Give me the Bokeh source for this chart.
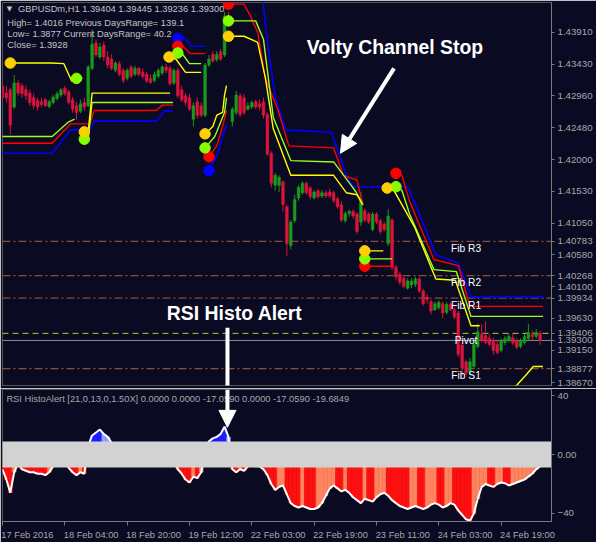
import math
from bokeh.plotting import figure
from bokeh.layouts import column
from bokeh.models import (Range1d, FixedTicker, PrintfTickFormatter, Span,
                          Arrow, NormalHead, ColumnDataSource)
from bokeh.core.properties import value
from bokeh.embed import file_html
from bokeh.resources import INLINE

NaN = float("nan")

# ---------------- data ----------------
header = "GBPUSDm,H1  1.39404 1.39445 1.39236 1.39300"
info_lines = ["High= 1.4016 Previous DaysRange= 139.1",
              "Low= 1.3877 Current DaysRange= 40.2",
              "Close= 1.3928"]

opens = [1.4311, 1.4300, 1.4305, 1.4279, 1.4315, 1.4311, 1.4305, 1.4300, 1.4293, 1.4289,
         1.4287, 1.4290, 1.4280, 1.4286, 1.4292, 1.4297, 1.4307, 1.4302, 1.4290, 1.4281,
         1.4273, 1.4286, 1.4281, 1.4337, 1.4375, 1.4354, 1.4372, 1.4354, 1.4351, 1.4334,
         1.4344, 1.4334, 1.4322, 1.4339, 1.4328, 1.4337, 1.4331, 1.4328, 1.4322, 1.4319,
         1.4325, 1.4330, 1.4339, 1.4337, 1.4315, 1.4334, 1.4305, 1.4296, 1.4293, 1.4261,
         1.4287, 1.4281, 1.4267, 1.4342, 1.4358, 1.4350, 1.4362, 1.4357, 1.4415, 1.4257,
         1.4271, 1.4296, 1.4293, 1.4276, 1.4279, 1.4287, 1.4284, 1.4287, 1.4268, 1.4210,
         1.4162, 1.4162, 1.4167, 1.4130, 1.4072, 1.4109, 1.4143, 1.4151, 1.4165, 1.4158,
         1.4143, 1.4154, 1.4146, 1.4151, 1.4152, 1.4151, 1.4142, 1.4133, 1.4109, 1.4120,
         1.4123, 1.4119, 1.4107, 1.4124, 1.4119, 1.4096, 1.4119, 1.4109, 1.4104, 1.4075,
         1.4110, 1.4040, 1.4029, 1.4023, 1.4008, 1.4013, 1.4014, 1.4022, 1.4004, 1.3995,
         1.3988, 1.3976, 1.3979, 1.3985, 1.3972, 1.3984, 1.3976, 1.3971, 1.3923, 1.3898,
         1.3883, 1.3891, 1.3921, 1.3939, 1.3937, 1.3933, 1.3930, 1.3924, 1.3915, 1.3927,
         1.3930, 1.3934, 1.3930, 1.3921, 1.3927, 1.3933, 1.3939, 1.3936, 1.39404]
highs = [1.4315, 1.4311, 1.4308, 1.4327, 1.4319, 1.4315, 1.4311, 1.4305, 1.4299, 1.4293,
         1.4293, 1.4293, 1.4290, 1.4297, 1.4302, 1.4308, 1.4311, 1.4305, 1.4294, 1.4287,
         1.4290, 1.4293, 1.4342, 1.4395, 1.4380, 1.4375, 1.4377, 1.4363, 1.4358, 1.4348,
         1.4348, 1.4337, 1.4337, 1.4342, 1.4341, 1.4339, 1.4337, 1.4332, 1.4328, 1.4332,
         1.4337, 1.4342, 1.4344, 1.4341, 1.4337, 1.4338, 1.4311, 1.4300, 1.4299, 1.4286,
         1.4293, 1.4286, 1.4345, 1.4357, 1.4363, 1.4363, 1.4366, 1.4421, 1.4421, 1.4279,
         1.4303, 1.4300, 1.4299, 1.4286, 1.4289, 1.4290, 1.4290, 1.4293, 1.4271, 1.4213,
         1.4180, 1.4177, 1.4170, 1.4133, 1.4110, 1.4148, 1.4162, 1.4168, 1.4168, 1.4161,
         1.4155, 1.4157, 1.4155, 1.4154, 1.4157, 1.4154, 1.4145, 1.4138, 1.4123, 1.4126,
         1.4126, 1.4122, 1.4152, 1.4127, 1.4122, 1.4122, 1.4122, 1.4112, 1.4107, 1.4126,
         1.4113, 1.4043, 1.4032, 1.4026, 1.4023, 1.4023, 1.4025, 1.4025, 1.4007, 1.3999,
         1.3991, 1.3988, 1.3990, 1.3988, 1.3987, 1.3987, 1.3979, 1.3974, 1.3926, 1.3901,
         1.3904, 1.3930, 1.3955, 1.3955, 1.3959, 1.3939, 1.3934, 1.3930, 1.3933, 1.3937,
         1.3940, 1.3940, 1.3933, 1.3933, 1.3940, 1.3955, 1.3945, 1.3947, 1.39445]
lows = [1.4289, 1.4286, 1.4238, 1.4276, 1.4296, 1.4293, 1.4290, 1.4281, 1.4276, 1.4274,
        1.4279, 1.4279, 1.4277, 1.4283, 1.4289, 1.4294, 1.4296, 1.4283, 1.4271, 1.4260,
        1.4270, 1.4274, 1.4279, 1.4334, 1.4354, 1.4351, 1.4348, 1.4337, 1.4334, 1.4331,
        1.4325, 1.4315, 1.4319, 1.4322, 1.4325, 1.4325, 1.4322, 1.4315, 1.4314, 1.4316,
        1.4322, 1.4327, 1.4330, 1.4311, 1.4312, 1.4293, 1.4287, 1.4281, 1.4273, 1.4250,
        1.4262, 1.4264, 1.4264, 1.4339, 1.4345, 1.4347, 1.4348, 1.4354, 1.4407, 1.4250,
        1.4267, 1.4264, 1.4267, 1.4274, 1.4276, 1.4276, 1.4274, 1.4262, 1.4206, 1.4159,
        1.4154, 1.4152, 1.4123, 1.4056, 1.4066, 1.4106, 1.4139, 1.4148, 1.4148, 1.4141,
        1.4141, 1.4142, 1.4143, 1.4143, 1.4143, 1.4136, 1.4127, 1.4107, 1.4106, 1.4115,
        1.4112, 1.4089, 1.4101, 1.4107, 1.4104, 1.4093, 1.4104, 1.4089, 1.4093, 1.4071,
        1.4035, 1.4020, 1.4013, 1.4008, 1.4006, 1.4008, 1.4010, 1.4001, 1.3982, 1.3985,
        1.3969, 1.3974, 1.3976, 1.3963, 1.3969, 1.3974, 1.3962, 1.3905, 1.3877, 1.3878,
        1.3879, 1.3888, 1.3918, 1.3927, 1.3924, 1.3921, 1.3909, 1.3909, 1.3912, 1.3923,
        1.3927, 1.3923, 1.3917, 1.3918, 1.3924, 1.3930, 1.3930, 1.3933, 1.39236]
closes = [1.4293, 1.4293, 1.4252, 1.4315, 1.4300, 1.4299, 1.4296, 1.4286, 1.4281, 1.4279,
          1.4283, 1.4281, 1.4287, 1.4294, 1.4299, 1.4305, 1.4299, 1.4286, 1.4276, 1.4271,
          1.4284, 1.4279, 1.4339, 1.4373, 1.4357, 1.4369, 1.4354, 1.4342, 1.4337, 1.4345,
          1.4328, 1.4319, 1.4334, 1.4325, 1.4337, 1.4328, 1.4325, 1.4318, 1.4316, 1.4328,
          1.4334, 1.4339, 1.4334, 1.4314, 1.4334, 1.4296, 1.4290, 1.4286, 1.4276, 1.4281,
          1.4267, 1.4267, 1.4342, 1.4351, 1.4348, 1.4358, 1.4351, 1.4415, 1.4409, 1.4276,
          1.4297, 1.4268, 1.4271, 1.4281, 1.4286, 1.4279, 1.4279, 1.4267, 1.4209, 1.4165,
          1.4177, 1.4174, 1.4133, 1.4075, 1.4107, 1.4141, 1.4159, 1.4165, 1.4151, 1.4145,
          1.4152, 1.4145, 1.4151, 1.4146, 1.4146, 1.4139, 1.4130, 1.4110, 1.4120, 1.4123,
          1.4116, 1.4093, 1.4141, 1.4110, 1.4107, 1.4119, 1.4107, 1.4093, 1.4096, 1.4116,
          1.4039, 1.4025, 1.4017, 1.4011, 1.4019, 1.4019, 1.4022, 1.4004, 1.3985, 1.3991,
          1.3974, 1.3985, 1.3987, 1.3971, 1.3984, 1.3976, 1.3965, 1.3909, 1.3889, 1.3881,
          1.3898, 1.3924, 1.3943, 1.3930, 1.3927, 1.3924, 1.3915, 1.3912, 1.3930, 1.3933,
          1.3936, 1.3926, 1.3920, 1.3930, 1.3936, 1.3942, 1.3936, 1.3942, 1.39300]

# Volty channel stop lines (bar index, price); NaN separates segments
yellow_i = [2, 12.5, 15.75, 17.75, 20, NaN,
            21, 22, 23, 43, NaN,
            42.75, 44.5, 47, 51, NaN,
            52, 54, 55, 56.5, 57, 57.5, NaN,
            58, 62, 65.5, 67.5, 69.5, 74, 85, 88.25, 91, 92.5, NaN,
            93, 97.75, NaN,
            98.75, 100.5, 105.75, 111.25, 116.25, 120.25, 122.5, NaN,
            130, 132, 134.5, 136.25, 138.75]
yellow_p = [1.4345, 1.4345, 1.4344, 1.4318, 1.4318, NaN,
            1.4242, 1.4242, 1.4300, 1.4300, NaN,
            1.4354, 1.4351, 1.4331, 1.4331, NaN,
            1.4239, 1.4250, 1.4267, 1.4271, 1.4297, 1.4311, NaN,
            1.4385, 1.4385, 1.4376, 1.4322, 1.4247, 1.4177, 1.4177, 1.4151, 1.4148, 1.4133, NaN,
            1.4064, 1.4064, NaN,
            1.4158, 1.4154, 1.4100, 1.4022, 1.4020, 1.3952, 1.3952, NaN,
            1.3854, 1.3863, 1.3879, 1.3891, 1.3891]
lime_i = [-0.5, 12.75, 17, 18.5, NaN,
          19, 20.5, NaN,
          21, 22, 23, 43.75, NaN,
          45, 46, 48, 51, NaN,
          52, 54.5, 55.75, 57, 57.5, NaN,
          58, 65, 67, 69.5, 74, 85, 89.5, 90.75, 92.5, NaN,
          93, 100, NaN,
          101, 102.5, 104.5, 110.75, 116.5, 120.25, 138.75]
lime_p = [1.4235, 1.4235, 1.4257, 1.4261, NaN,
          1.4322, 1.4322, NaN,
          1.4231, 1.4231, 1.4286, 1.4286, NaN,
          1.4360, 1.4360, 1.4344, 1.4344, NaN,
          1.4218, 1.4235, 1.4253, 1.4271, 1.4293, NaN,
          1.4408, 1.4408, 1.4380, 1.4264, 1.4199, 1.4197, 1.4162, 1.4152, 1.4133, NaN,
          1.4052, 1.4052, NaN,
          1.4160, 1.4155, 1.4119, 1.4036, 1.4033, 1.3966, 1.3966]
red_i = [-0.5, 12.75, 17.5, 22.5, 23.5, 39.5, 41, 43.75, NaN,
         45, 46.5, 48.25, 52, NaN,
         53, 55, 56.5, 57.5, NaN,
         58, 62, 63.5, 65.5, 67.5, 70.75, 73.5, 85, 87.5, 91, 92.5, NaN,
         93, 100, NaN,
         101, 102.5, 104.5, 110.75, 117, 120, 138.75]
red_p = [1.4225, 1.4225, 1.4254, 1.4254, 1.4274, 1.4274, 1.4282, 1.4282, NaN,
         1.4370, 1.4369, 1.4359, 1.4359, NaN,
         1.4205, 1.4221, 1.4250, 1.4274, NaN,
         1.4433, 1.4433, 1.4417, 1.4391, 1.4322, 1.4274, 1.4221, 1.4218, 1.4177, 1.4170, 1.4133, NaN,
         1.4041, 1.4041, NaN,
         1.4180, 1.4177, 1.4138, 1.4051, 1.4042, 1.3981, 1.3981]
blue_i = [-0.5, 12.75, 17.5, 22.5, 23.5, 39.5, 41.5, 43.75, NaN,
          45, 47, 48.5, 52, NaN,
          53, 55, 56.5, 57.5, NaN,
          63.5, 66.5, 68.25, 70, 72.75, 84.5, 88.25, 90, 104, 106.5, 111.25, 117, 120.25, 139]
blue_p = [1.4210, 1.4210, 1.4245, 1.4245, 1.4258, 1.4258, 1.4273, 1.4273, NaN,
          1.4382, 1.4382, 1.4370, 1.4370, NaN,
          1.4184, 1.4206, 1.4235, 1.4253, NaN,
          1.4453, 1.4453, 1.4366, 1.4293, 1.4245, 1.4241, 1.4177, 1.4160, 1.4160, 1.4126,
          1.4058, 1.4046, 1.3995, 1.3995]

# trend-change dots
dot_yellow_i = [2, 21, 42.75, 52, 58, 93, 98.75]
dot_yellow_p = [1.4345, 1.4242, 1.4354, 1.4239, 1.4385, 1.4064, 1.4158]
dot_lime_i = [19, 21, 45, 52, 58, 93, 101]
dot_lime_p = [1.4322, 1.4231, 1.4360, 1.4218, 1.4408, 1.4052, 1.4160]
dot_red_i = [45, 53, 58, 93, 101]
dot_red_p = [1.4370, 1.4205, 1.4433, 1.4041, 1.4180]
dot_blue_i = [45, 53]
dot_blue_p = [1.4382, 1.4184]

# pivot levels
level_names = ["Fib R3", "Fib R2", "Fib R1", "Pivot", "Fib S1"]
level_values = [1.40783, 1.40268, 1.39934, 1.39406, 1.38877]
bid_price = 1.39300

price_ticks = [1.4391, 1.4343, 1.4296, 1.4248, 1.4200, 1.4153, 1.4105,
               1.4058, 1.4010, 1.3963, 1.3915, 1.3867]
marked_prices = [1.40783, 1.40268, 1.39934, 1.39406, 1.39300, 1.38877]

# RSI HistoAlert values
rsi = [-10, -17, -26, -12, -6, -10, -11, -12, -12, -13,
       -13, -14, -12, -8, -5, -3, -5, -9, -12, -14,
       -12, -13, 6, 13, 15, 17, 14, 12, 8, 5,
       2, -2, 0, -1, 1, -1, -3, -5, -6, -4,
       -2, 1, 0, -5, -4, -10, -13, -17, -19, -15,
       -16, -12, 2, 9, 11, 12, 14, 19, 12, -10,
       -12, -10, -11, -8, -7, -8, -8, -10, -14, -20,
       -24, -22, -21, -27, -33, -35, -36, -35, -36, -37,
       -37, -36, -33, -28, -23, -21, -23, -25, -24, -26,
       -29, -31, -33, -30, -31, -32, -29, -27, -26, -28,
       -31, -33, -35, -36, -37, -36, -35, -36, -37, -36,
       -34, -33, -34, -36, -35, -33, -34, -38, -41, -44,
       -45, -40, -30, -22, -20, -21, -22, -20, -19, -19.5,
       -21, -20, -19, -18, -17, -15, -13, -10, -8]
rsi_title = "RSI HistoAlert [21,0,13,0,1.50X] 0.0000 0.0000 -17.0590 0.0000 -17.0590 -19.6849"
rsi_ticks = [40, 0, -40]

date_ticks = [0, 16, 32, 48, 64, 80, 96, 112, 128]
date_labels = ["17 Feb 2016", "18 Feb 04:00", "18 Feb 20:00", "19 Feb 12:00",
               "22 Feb 03:00", "22 Feb 19:00", "23 Feb 11:00", "24 Feb 03:00",
               "24 Feb 19:00"]

# ---------------- style ----------------
BG = "#0a0a22"
AX = "#7a7a7a"
TXT = "#a8a8a8"
HDR = "#c4c4c4"
UP = "#1a9a1a"
DN = "#dc143c"
FONT = "Liberation Sans"
FIBC = "#b0603a"

W = 596
TOP_H, BOT_H = 388, 154
LB, RB = 2, 45

n = min(len(opens), len(highs), len(lows), len(closes))
idx = list(range(n))
clr = [UP if closes[k] >= opens[k] else DN for k in idx]
src = ColumnDataSource(dict(
    x=idx, h=highs[:n], l=lows[:n],
    top=[max(opens[k], closes[k]) for k in idx],
    bot=[min(opens[k], closes[k]) for k in idx],
    clr=clr))

# ---------------- main panel ----------------
p = figure(width=W, height=TOP_H, x_range=Range1d(0.0, 140.93),
           y_range=Range1d(1.38626, 1.44355),
           output_backend="svg", toolbar_location=None,
           x_axis_location=None, y_axis_location="right",
           min_border_left=LB, min_border_top=2, min_border_bottom=3,
           min_border_right=RB, background_fill_color=BG, border_fill_color=BG,
           outline_line_color="#555555")
p.grid.visible = False

ya = p.yaxis[0]
ya.ticker = FixedTicker(ticks=sorted(price_ticks + marked_prices))
ya.formatter = PrintfTickFormatter(format="%.5f")
ya.axis_line_color = AX
ya.major_tick_line_color = AX
ya.major_tick_out = 3
ya.major_tick_in = 0
ya.minor_tick_line_color = None
ya.major_label_standoff = 3
ya.major_label_text_color = TXT
ya.major_label_text_font = FONT
ya.major_label_text_font_size = "9.7px"

# pivot / fib levels
for name, lv in zip(level_names, level_values):
    if name == "Pivot":
        p.add_layout(Span(location=lv, dimension="width", line_color="#a6d62c",
                          line_width=1, line_dash="6 4", level="underlay"))
    else:
        p.add_layout(Span(location=lv, dimension="width", line_color=FIBC,
                          line_width=1, line_dash="8 3 2 3", level="underlay"))
p.add_layout(Span(location=bid_price, dimension="width", line_color="#8c8c8c",
                  line_width=1, level="underlay"))

# candles
p.segment(x0="x", y0="h", x1="x", y1="l", source=src, line_color="clr", line_width=1)
p.vbar(x="x", width=0.7, top="top", bottom="bot", source=src,
       fill_color="clr", line_color="clr", line_width=0.5)

# volty channel lines
p.line(blue_i, blue_p, line_color="#0000ff", line_width=1.6)
p.line(red_i, red_p, line_color="#ff0000", line_width=1.4)
p.line(lime_i, lime_p, line_color="#9cff1e", line_width=1.4)
p.line(yellow_i, yellow_p, line_color="#ffff00", line_width=1.4)

p.scatter(dot_blue_i, dot_blue_p, size=10.5, color="#0000ff")
p.scatter(dot_red_i, dot_red_p, size=10.5, color="#ff0000")
p.scatter(dot_lime_i, dot_lime_p, size=10.5, color="#84ff00")
p.scatter(dot_yellow_i, dot_yellow_p, size=10.5, color="#ffd000")

# level labels
for name, lv in zip(level_names, level_values):
    p.text(x=[119], y=[lv - 0.00105], text=[name], text_color="white",
           text_font=value(FONT), text_font_size="10.2px",
           text_align="center", text_baseline="middle")

# header texts
p.text(x=[1.1], y=[1.44254], text=["\u25bc"], text_color=HDR, text_font=value("DejaVu Sans"),
       text_font_size="7px", text_baseline="middle")
p.text(x=[4.0], y=[1.44254], text=[header], text_color=HDR, text_font=value(FONT),
       text_font_size="9.3px", text_baseline="middle")
for t, yy in zip(info_lines, [1.44047, 1.43887, 1.43721]):
    p.text(x=[1.25], y=[yy], text=[t], text_color=HDR, text_font=value(FONT),
           text_font_size="9.3px", text_baseline="middle")

# annotations
p.text(x=[100.75], y=[1.43688], text=["Volty Channel Stop"], text_color="white",
       text_font=value(FONT), text_font_size="19.4px", text_font_style="bold",
       text_align="center", text_baseline="middle")
p.text(x=[59.6], y=[1.39706], text=["RSI Histo Alert"], text_color="white",
       text_font=value(FONT), text_font_size="19.4px", text_font_style="bold",
       text_align="center", text_baseline="middle")
p.add_layout(Arrow(end=NormalHead(size=17, fill_color="white", line_color="white"),
                   x_start=100.5, y_start=1.4337, x_end=86.75, y_end=1.4210,
                   line_color="white", line_width=4))
p.segment(x0=[57.75], y0=[1.39488], x1=[57.75], y1=[1.3850], line_color="white", line_width=4)

# ---------------- RSI panel ----------------
q = figure(width=W, height=BOT_H, x_range=p.x_range, y_range=Range1d(-45.5, 44.23),
           output_backend="svg", toolbar_location=None, y_axis_location="right",
           min_border_left=LB, min_border_top=1, min_border_bottom=19,
           min_border_right=RB, background_fill_color=BG, border_fill_color=BG,
           outline_line_color="#555555")
q.grid.visible = False

rsi = rsi[:n]
rcol = []
for k, v in enumerate(rsi):
    prev = rsi[k - 1] if k else v
    if v >= 0:
        rcol.append("#1e1eff" if v >= prev else "#8ea2ff")
    else:
        rcol.append("#ff1010" if v <= prev else "#ff8560")
q.vbar(x=idx, width=1.0, top=rsi, bottom=0, fill_color=rcol, line_color=rcol, line_width=0.5)
q.line(idx, rsi, line_color="white", line_width=2)
q.quad(left=[-3], right=[145], bottom=[-8.8], top=[8.8], fill_color="#d2d2d2", line_color=None)

q.text(x=[1.0], y=[38.0], text=[rsi_title], text_color=TXT, text_font=value(FONT),
       text_font_size="9.3px", text_baseline="middle")
q.add_layout(Arrow(end=NormalHead(size=17, fill_color="white", line_color="white"),
                   x_start=57.75, y_start=44.23, x_end=57.75, y_end=18.5,
                   line_color="white", line_width=4))

qa = q.yaxis[0]
qa.ticker = FixedTicker(ticks=rsi_ticks)
qa.major_label_overrides = {0: "0.00"}
qa.axis_line_color = AX
qa.major_tick_line_color = AX
qa.major_tick_out = 3
qa.major_tick_in = 0
qa.minor_tick_line_color = None
qa.major_label_standoff = 3
qa.major_label_text_color = TXT
qa.major_label_text_font = FONT
qa.major_label_text_font_size = "9.7px"

centers = [t + 6.75 for t in date_ticks]
centers[0] = 6.4
xa = q.xaxis[0]
xa.ticker = FixedTicker(ticks=centers, minor_ticks=date_ticks)
xa.major_label_overrides = {c: lab for c, lab in zip(centers, date_labels)}
xa.major_tick_out = 0
xa.major_tick_in = 0
xa.minor_tick_out = 4
xa.minor_tick_in = 0
xa.minor_tick_line_color = AX
xa.axis_line_color = AX
xa.major_label_standoff = 4
xa.major_label_text_color = TXT
xa.major_label_text_font = FONT
xa.major_label_text_font_size = "9.3px"

layout = column(p, q, spacing=0)
open("out.html", "w").write(file_html(layout, INLINE))
